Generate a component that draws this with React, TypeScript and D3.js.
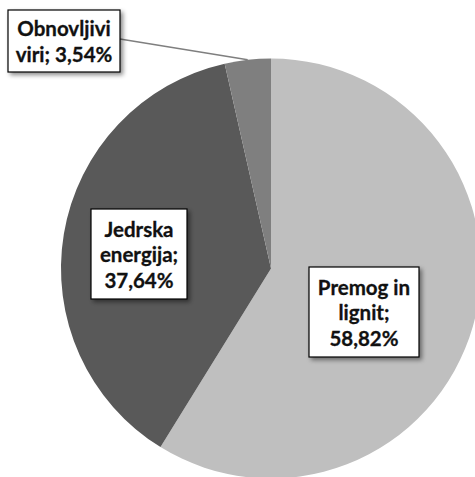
import React from 'react';
import * as d3 from 'd3';

const categories = ['Premog in lignit', 'Jedrska energija', 'Obnovljivi viri'];
const values = [58.82, 37.64, 3.54];
const colors = ['#bfbfbf', '#595959', '#7f7f7f'];
const labelLines = [
  ['Premog in', 'lignit;', '58,82%'],
  ['Jedrska', 'energija;', '37,64%'],
  ['Obnovljivi', 'viri; 3,54%'],
];

interface Slice {
  name: string;
  value: number;
}

const width = 475;
const height = 477;
const cx = 271;
const cy = 268.5;
const radius = 210;

// label boxes: [x, y, w, h]
const boxes = [
  [309, 267, 110, 90],
  [91, 209, 96, 90],
  [8, 10, 112, 62],
];

const fontFamily = 'Lato, "Open Sans", sans-serif';

export default function App() {
  const data: Slice[] = categories.map((name, i) => ({ name, value: values[i] }));
  const pie = d3.pie<Slice>().sort(null).value((d) => d.value);
  const arcs = pie(data);
  const arcGen = d3.arc<d3.PieArcDatum<Slice>>().innerRadius(0).outerRadius(radius);

  // leader line for the small slice: from its outer arc point to its box
  const small = arcs[2];
  const a = small.startAngle + (small.endAngle - small.startAngle) * 0.5;
  const lx = cx + Math.sin(a) * radius;
  const ly = cy - Math.cos(a) * radius;
  const b = boxes[2];

  return (
    <svg
      width={width}
      height={height}
      style={{ position: 'absolute', left: 0, top: 0, background: '#fff' }}
    >
      <defs>
        <filter id="shadow" x="-20%" y="-20%" width="140%" height="140%">
          <feDropShadow dx="2.5" dy="2.5" stdDeviation="2" floodColor="#000" floodOpacity="0.45" />
        </filter>
      </defs>
      <g transform={`translate(${cx},${cy})`}>
        {arcs.map((d, i) => (
          <path key={d.data.name} d={arcGen(d) || ''} fill={colors[i]} stroke="none" />
        ))}
      </g>
      <line x1={b[0] + b[2]} y1={b[1] + 29} x2={lx} y2={ly} stroke="#7f7f7f" strokeWidth={1.5} />
      {boxes.map((bx, i) => {
        const lines = labelLines[i];
        const lh = 25.5;
        const first = bx[1] + bx[3] / 2 - ((lines.length - 1) * lh) / 2 + 8;
        return (
          <g key={i}>
            <rect
              x={bx[0]}
              y={bx[1]}
              width={bx[2]}
              height={bx[3]}
              fill="#fff"
              stroke="#000"
              strokeWidth={1.2}
              filter="url(#shadow)"
            />
            <text
              textAnchor="middle"
              fontFamily={fontFamily}
              fontWeight="bold"
              fontSize={20.5}
              fill="#111"
              stroke="#111"
              strokeWidth={0.3}
            >
              {lines.map((t, j) => (
                <tspan key={j} x={bx[0] + bx[2] / 2} y={first + j * lh}>
                  {t}
                </tspan>
              ))}
            </text>
          </g>
        );
      })}
    </svg>
  );
}
